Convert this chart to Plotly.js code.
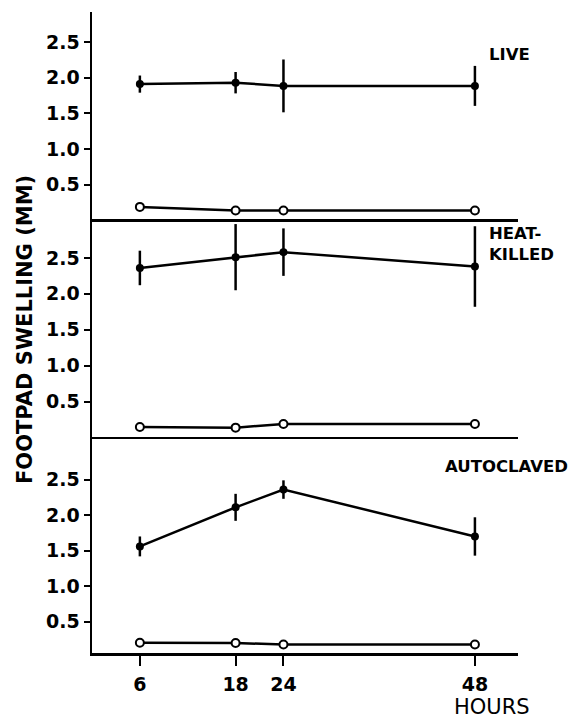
<!DOCTYPE html>
<html>
<head>
<meta charset="utf-8">
<script src="https://cdn.plot.ly/plotly-3.0.1.min.js"></script>
<style>html,body{margin:0;padding:0;background:#fff;}#chart{width:585px;height:723px;}</style>
</head>
<body>
<div id="chart"></div>
<script>
// Data (footpad swelling, mm)
const hours = [6, 18, 24, 48];
const hourLabels = ["6", "18", "24", "48"];

const liveMean = [1.91, 1.93, 1.885, 1.885];
const liveErr  = [0.12, 0.15, 0.37, 0.28];
const liveCtrl = [0.19, 0.14, 0.14, 0.14];

const heatMean = [2.36, 2.51, 2.58, 2.38];
const heatErr  = [0.24, 0.46, 0.33, 0.56];
const heatCtrl = [0.15, 0.14, 0.19, 0.19];

const autoMean = [1.56, 2.11, 2.36, 1.70];
const autoErr  = [0.14, 0.19, 0.13, 0.27];
const autoCtrl = [0.205, 0.20, 0.18, 0.18];

const yTickVals = [0.5, 1.0, 1.5, 2.0, 2.5];
const yTickText = ["0.5", "1.0", "1.5", "2.0", "2.5"];
const panelLabels = ["LIVE", "HEAT-<br>KILLED", "AUTOCLAVED"];

const FONT = "'DejaVu Sans', sans-serif";
const LW = 2.5;

function meanTrace(y, err, xa, ya) {
  return {
    x: hours, y: y, xaxis: xa, yaxis: ya, type: 'scatter', mode: 'lines+markers',
    line: {color: '#000', width: LW},
    marker: {color: '#000', size: 8, symbol: 'circle'},
    error_y: {type: 'data', array: err, visible: true, thickness: LW, width: 0, color: '#000'},
    cliponaxis: false, showlegend: false, hoverinfo: 'skip'
  };
}
function ctrlTrace(y, xa, ya) {
  return {
    x: hours, y: y, xaxis: xa, yaxis: ya, type: 'scatter', mode: 'lines+markers',
    line: {color: '#000', width: LW},
    marker: {color: '#fff', size: 8, symbol: 'circle', line: {color: '#000', width: 2}},
    cliponaxis: false, showlegend: false, hoverinfo: 'skip'
  };
}

const data = [
  meanTrace(liveMean, liveErr, 'x', 'y'),
  ctrlTrace(liveCtrl, 'x', 'y'),
  meanTrace(heatMean, heatErr, 'x2', 'y2'),
  ctrlTrace(heatCtrl, 'x2', 'y2'),
  meanTrace(autoMean, autoErr, 'x3', 'y3'),
  ctrlTrace(autoCtrl, 'x3', 'y3')
];

const tickFont = {family: FONT, size: 19, color: '#000', weight: 'bold'};
function yax(domain, range) {
  return {
    domain: domain, range: range, showgrid: false, zeroline: false,
    showline: true, linecolor: '#000', linewidth: LW,
    ticks: 'outside', ticklen: 6, tickwidth: 2, tickcolor: '#000',
    tickvals: yTickVals, ticktext: yTickText, tickfont: tickFont,
    fixedrange: true
  };
}
function xax(anchor, showTicks) {
  return {
    anchor: anchor, domain: [0, 1], range: [0, 53.4], showgrid: false, zeroline: false,
    showline: true, linecolor: '#000', linewidth: LW,
    ticks: showTicks ? 'outside' : '', ticklen: 10, tickwidth: 2, tickcolor: '#000',
    tickvals: hours, ticktext: hourLabels, showticklabels: showTicks,
    ticklabelstandoff: 3,
    tickfont: tickFont, fixedrange: true
  };
}

const labelFont = {family: FONT, size: 16.5, color: '#000', weight: 'bold'};

const layout = {
  width: 585, height: 723,
  margin: {l: 92, r: 67, t: 12, b: 70},
  paper_bgcolor: '#fff', plot_bgcolor: '#fff',
  showlegend: false,
  font: {family: FONT, color: '#000'},
  xaxis: xax('y', false),
  xaxis2: xax('y2', false),
  xaxis3: xax('y3', true),
  yaxis: yax([0.677, 1], [0.02, 2.92]),
  yaxis2: yax([0.337, 0.677], [0.01, 3.04]),
  yaxis3: yax([0, 0.337], [0.06, 3.1]),
  annotations: [
    {text: panelLabels[0], xref: 'x', yref: 'y', x: 49.5, y: 2.33, xanchor: 'left', yanchor: 'middle',
     showarrow: false, font: labelFont},
    {text: panelLabels[1], xref: 'x2', yref: 'y2', x: 49.5, y: 2.69, xanchor: 'left', yanchor: 'middle', align: 'left',
     showarrow: false, font: labelFont},
    {text: panelLabels[2], xref: 'x3', yref: 'y3', x: 44, y: 2.68, xanchor: 'left', yanchor: 'middle',
     showarrow: false, font: labelFont},
    {text: 'HOURS', xref: 'paper', yref: 'paper', x: (492 - 92) / 426, y: (653 - 707) / 641,
     xanchor: 'center', yanchor: 'middle', showarrow: false,
     font: {family: FONT, size: 21, color: '#000'}},
    {text: 'FOOTPAD SWELLING (MM)', xref: 'paper', yref: 'paper', x: (25 - 92) / 426, y: (653 - 330) / 641,
     xanchor: 'center', yanchor: 'middle', textangle: -90, showarrow: false,
     font: {family: FONT, size: 21, color: '#000', weight: 'bold'}}
  ]
};

Plotly.newPlot('chart', data, layout, {displayModeBar: false, staticPlot: true});
</script>
</body>
</html>
